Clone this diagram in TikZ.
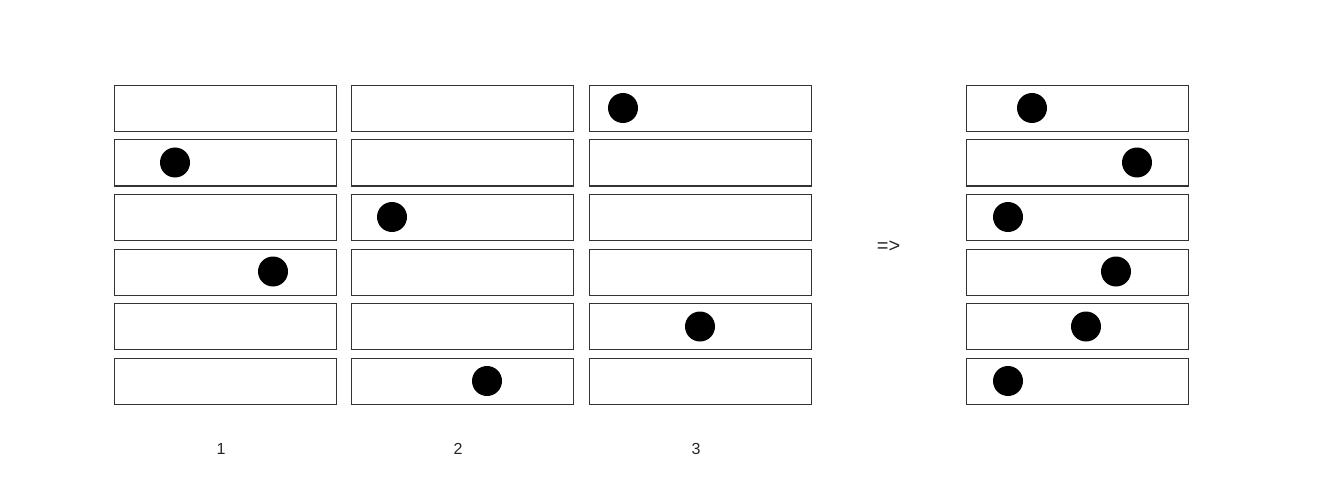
\documentclass[tikz,border=0pt]{standalone}
\usepackage{fontspec}
\setmainfont{Liberation Sans}
\begin{document}
\begin{tikzpicture}[x=1pt,y=-1pt,
  slot/.style={draw=black!80,line width=1.2pt,minimum width=222pt,minimum height=46pt,inner sep=0pt,outer sep=0pt,anchor=north west},
  ball/.style={circle,fill=black,minimum size=30pt,inner sep=0pt},
  lbl/.style={font=\fontsize{16}{18}\selectfont,text=black!85}]
\useasboundingbox (0,0) rectangle (1320,492);
\foreach \c/\x in {a/114.3,b/351.3,c/589.3,d/966.3}{
  \foreach \r/\y in {1/85.3,2/139.9,3/194.5,4/249.1,5/303.7,6/358.3}{
    \node[slot] (\c\r) at (\x,\y) {};
  }
}
\node[ball] (p1) at (175,162.5) {};
\node[ball] (p2) at (273,271.5) {};
\node[ball] (p3) at (392,217) {};
\node[ball] (p4) at (487,381) {};
\node[ball] (p5) at (623,108) {};
\node[ball] (p6) at (700,326.5) {};
\node[ball] (p7) at (1032,108) {};
\node[ball] (p8) at (1137,162.5) {};
\node[ball] (p9) at (1008,217) {};
\node[ball] (p10) at (1116,271.5) {};
\node[ball] (p11) at (1086,326.5) {};
\node[ball] (p12) at (1008,381) {};
\node[lbl] (l1) at (221,449) {1};
\node[lbl] (l2) at (458,449) {2};
\node[lbl] (l3) at (696,449) {3};
\node[lbl,font=\fontsize{20}{22}\selectfont] (arr) at (888.5,247) {=>};
\end{tikzpicture}
\end{document}
